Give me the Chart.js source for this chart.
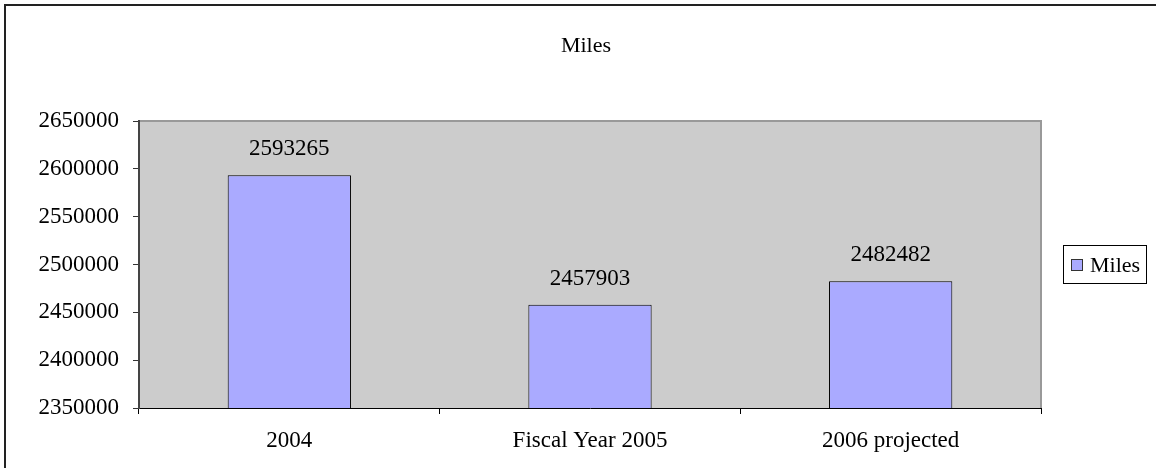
<!DOCTYPE html>
<html>
<head>
<meta charset="utf-8">
<style>
  html, body { margin: 0; padding: 0; background: #ffffff; }
  #wrap { position: relative; width: 1156px; height: 468px; }
  canvas { display: block; }
</style>
<script src="https://cdn.jsdelivr.net/npm/chart.js@4/dist/chart.umd.min.js"></script>
</head>
<body>
<div id="wrap"><canvas id="c" width="1156" height="468"></canvas></div>
<script>
// Annual miles driven
const categories = ['2004', 'Fiscal Year 2005', '2006 projected'];
const miles = [2593265, 2457903, 2482482];
const yTicks = [2350000, 2400000, 2450000, 2500000, 2550000, 2600000, 2650000];
const chartTitle = 'Miles';
const seriesName = 'Miles';

const FONT = '"Liberation Serif", "Times New Roman", serif';
const BAR_FILL = '#aaaaff';

// Frame, plot background, title, value labels and legend
const decorations = {
  id: 'decorations',
  beforeDraw(chart) {
    const { ctx, chartArea: a } = chart;
    ctx.save();
    ctx.fillStyle = '#cccccc';
    ctx.fillRect(a.left, a.top, a.right - a.left, a.bottom - a.top);
    ctx.strokeStyle = '#999999';
    ctx.lineWidth = 2;
    ctx.beginPath();
    ctx.moveTo(a.left, a.top);
    ctx.lineTo(a.right, a.top);
    ctx.lineTo(a.right, a.bottom);
    ctx.stroke();
    ctx.restore();
  },
  afterDraw(chart) {
    const { ctx } = chart;
    ctx.save();
    // outer frame
    ctx.strokeStyle = '#222222';
    ctx.lineWidth = 2;
    ctx.beginPath();
    ctx.moveTo(5, chart.height);
    ctx.lineTo(5, 5);
    ctx.lineTo(chart.width, 5);
    ctx.stroke();

    // title
    ctx.fillStyle = '#000000';
    ctx.font = '22px ' + FONT;
    ctx.textAlign = 'center';
    ctx.textBaseline = 'alphabetic';
    ctx.fillText(chartTitle, 586, 52);

    // value labels above bars
    ctx.font = '23px ' + FONT;
    const meta = chart.getDatasetMeta(0);
    meta.data.forEach((bar, i) => {
      ctx.fillText(String(chart.data.datasets[0].data[i]), bar.x, bar.y - 20);
    });

    // legend
    ctx.font = '22px ' + FONT;
    ctx.fillStyle = '#ffffff';
    ctx.fillRect(1063, 245, 83, 38);
    ctx.strokeStyle = '#000000';
    ctx.lineWidth = 1;
    ctx.strokeRect(1063.5, 245.5, 83, 38);
    ctx.fillStyle = BAR_FILL;
    ctx.fillRect(1071, 259, 11, 11);
    ctx.strokeStyle = '#333333';
    ctx.strokeRect(1071.5, 259.5, 11, 11);
    ctx.fillStyle = '#000000';
    ctx.textAlign = 'left';
    ctx.fillText(chart.data.datasets[0].label, 1090, 272);
    ctx.restore();
  }
};

new Chart(document.getElementById('c'), {
  type: 'bar',
  data: {
    labels: categories,
    datasets: [{
      label: seriesName,
      data: miles,
      backgroundColor: BAR_FILL,
      borderColor: '#000000',
      borderWidth: 1,
      barPercentage: 0.41,
      categoryPercentage: 1.0
    }]
  },
  options: {
    responsive: false,
    animation: false,
    devicePixelRatio: 1,
    layout: { padding: { top: 121, right: 115, left: 0, bottom: 0 } },
    plugins: {
      legend: { display: false },
      title: { display: false },
      tooltip: { enabled: false }
    },
    scales: {
      x: {
        offset: true,
        grid: {
          offset: true,
          drawOnChartArea: false,
          drawTicks: true,
          tickLength: 6,
          color: '#000000'
        },
        border: { display: true, color: '#000000', width: 1 },
        ticks: {
          color: '#000000',
          font: { family: FONT, size: 23 },
          padding: 13,
          maxRotation: 0,
          autoSkip: false
        },
        afterFit(scale) { scale.height = 60; }
      },
      y: {
        min: yTicks[0],
        max: yTicks[yTicks.length - 1],
        afterBuildTicks(scale) { scale.ticks = yTicks.map(v => ({ value: v })); },
        grid: {
          drawOnChartArea: false,
          drawTicks: true,
          tickLength: 6,
          color: '#333333'
        },
        border: { display: true, color: '#444444', width: 2 },
        ticks: {
          color: '#000000',
          font: { family: FONT, size: 23 },
          padding: 14,
          callback: (v) => String(v)
        },
        afterFit(scale) { scale.width = 139; }
      }
    }
  },
  plugins: [decorations]
});
</script>
</body>
</html>
